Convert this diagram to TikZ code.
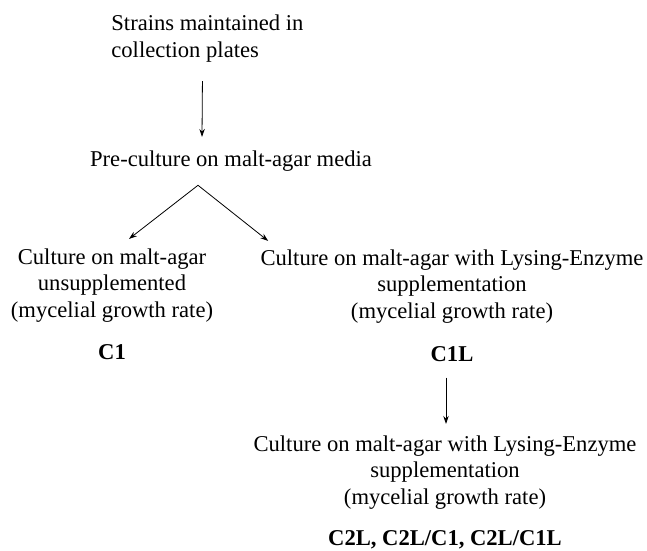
\documentclass[tikz,border=0pt]{standalone}
\usepackage{fontspec}
\setmainfont{Liberation Serif}
\usetikzlibrary{arrows.meta, positioning}

\begin{document}
\begin{tikzpicture}[
		x=1pt, y=1pt,
		>={Stealth[length=8pt,width=5.5pt]},
		line width=0.8pt,
		elem/.style={inner sep=0pt,align=center,font=\fontsize{22.6}{26.5}\selectfont},
		code/.style={elem,font=\fontsize{22.6}{26.5}\selectfont\bfseries}
	]
		\useasboundingbox (0,0) rectangle (647,-550);
		\node (stra) [elem,align=left,anchor=base west] at (111,-57) {Strains maintained in\\collection plates};
		\node (prec) [elem,anchor=base] at (231,-166) {Pre-culture on malt-agar media};
		\node (unsu) [elem,anchor=base] at (112,-317) {Culture on malt-agar\\unsupplemented\\(mycelial growth rate)};
		\node (lyse) [elem,anchor=base] at (452,-318) {Culture on malt-agar with Lysing-Enzyme\\supplementation\\(mycelial growth rate)};
		\node (cone) [code,anchor=base] at (112,-359) {C1};
		\node (conl) [code,anchor=base] at (452,-361) {C1L};
		\node (lys2) [elem,anchor=base] at (445,-504) {Culture on malt-agar with Lysing-Enzyme\\supplementation\\(mycelial growth rate)};
		\node (ctwo) [code,anchor=base] at (445,-545) {C2L, C2L/C1, C2L/C1L};
		\coordinate (fork) at ([xshift=-33pt,yshift=-14pt]prec.south);
	
		\draw [->] ([xshift=-5pt,yshift=-19pt]stra.south) -- ([xshift=-29pt,yshift=13pt]prec.north);
		\draw [->] (fork) -- ([xshift=17pt,yshift=9pt]unsu.north);
		\draw [->] (fork) -- ([xshift=8pt,yshift=8pt]lyse.north west);
		\draw [->] ([xshift=-6pt,yshift=-16pt]conl.south) -- ([xshift=1pt,yshift=11pt]lys2.north);
	\end{tikzpicture}
\end{document}
